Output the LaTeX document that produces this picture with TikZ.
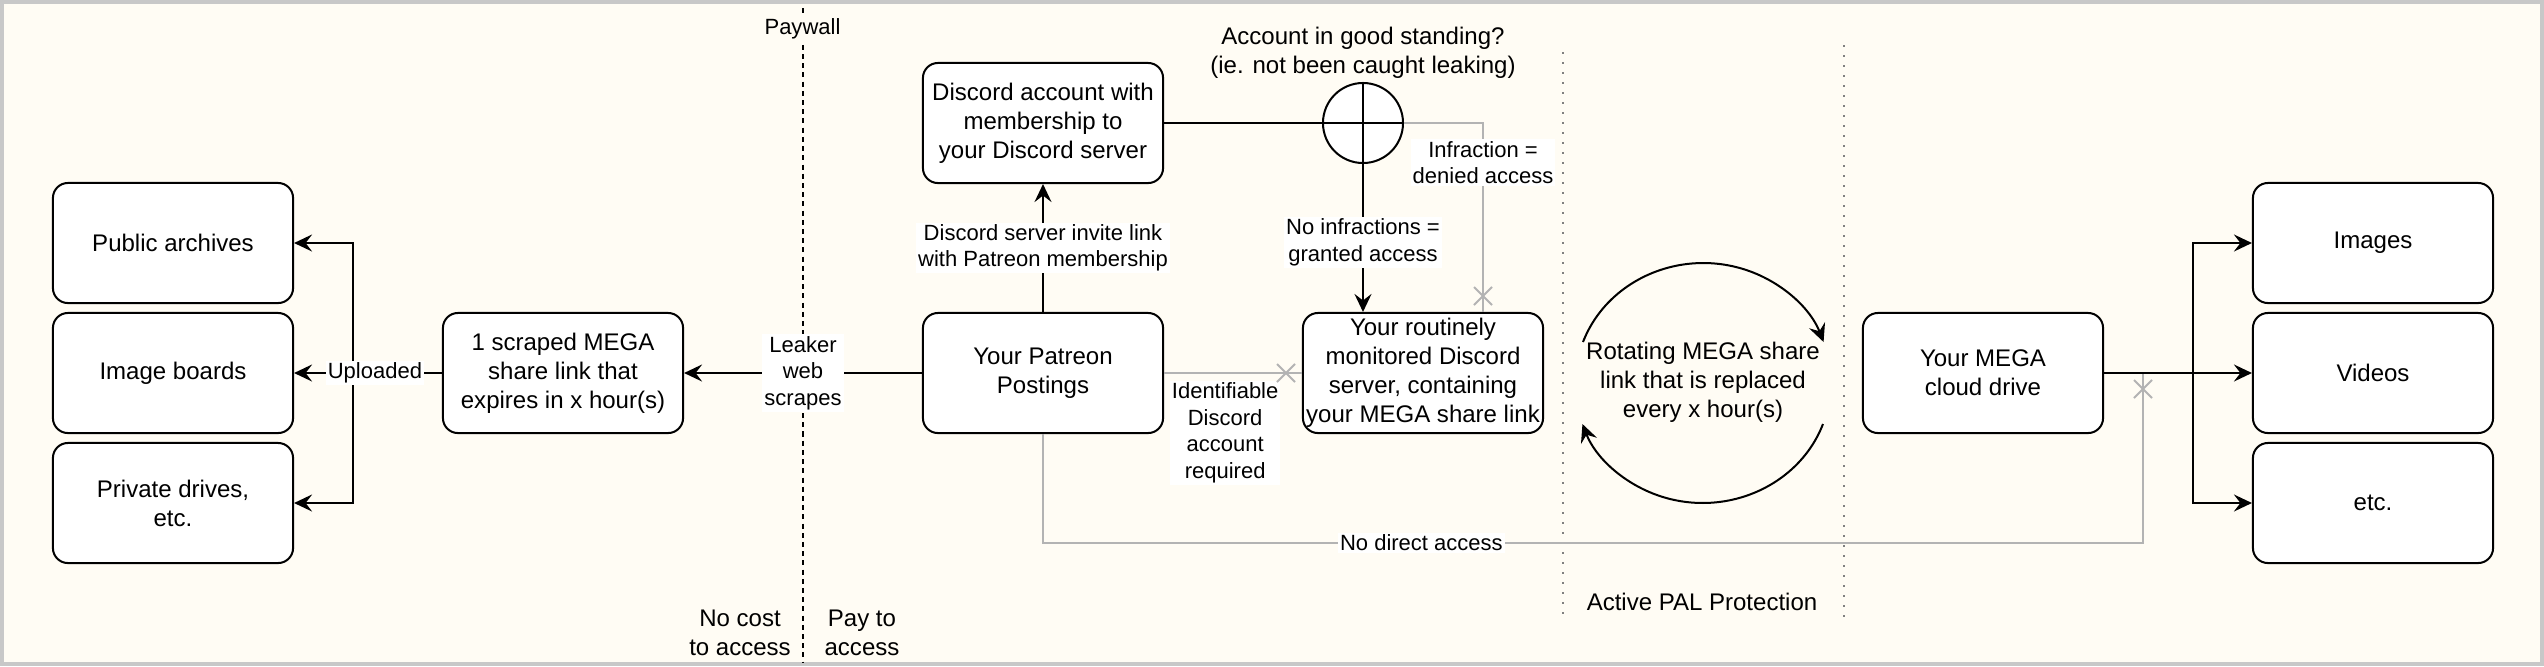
\documentclass[tikz,border=0pt]{standalone}
\usepackage{fontspec}
\setmainfont{Liberation Sans}
\usetikzlibrary{arrows.meta,shapes.misc}
\definecolor{paper}{HTML}{FFFCF4}
\definecolor{rim}{HTML}{C8C8C8}
\definecolor{nogo}{HTML}{B3B3B3}
\definecolor{fencegray}{HTML}{808080}

\begin{document}
\begin{tikzpicture}[x=0.01cm,y=-0.01cm,
  box/.style={draw,rectangle,rounded corners=0.15cm,fill=white,line width=0.02cm,
    minimum width=2.4cm,minimum height=1.2cm,align=center,inner sep=0pt,
    font=\fontsize{6.83}{8.2}\selectfont},
  freetext/.style={align=center,inner sep=0pt,font=\fontsize{6.83}{8.2}\selectfont},
  elabel/.style={fill=white,align=center,inner sep=0.02cm,font=\fontsize{6.26}{7.5}\selectfont},
  flow/.style={line width=0.02cm,-{Stealth[length=0.18cm,width=0.17cm,inset=0.065cm]}},
  wire/.style={line width=0.02cm},
  offline/.style={draw=nogo,line width=0.02cm},
  blocked/.style={cross out,draw=nogo,line width=0.02cm,minimum size=0.16cm,inner sep=0pt},
  wall/.style={line width=0.02cm,dash pattern=on 0.05cm off 0.042cm},
  fence/.style={draw=fencegray,line width=0.02cm,dash pattern=on 0.02cm off 0.08cm}]

\useasboundingbox (0,0) rectangle (2544,666);
\draw[draw=rim,fill=paper,line width=0.04cm] (2,2) rectangle (2542,664);

% zones
\draw[wall] (802.5,8) -- (802.5,662);
\draw[fence] (1563,52) -- (1563,622);
\draw[fence] (1843.5,45) -- (1843.5,617);

\node[elabel,fill=paper] (paywall) at (802.5,29) {Paywall};
\node[freetext] (free) at (740,633) {No cost\\to access};
\node[freetext] (paid) at (862,633) {Pay to\\access};
\node[freetext] (standing) at (1363,53) {Account in good standing?\\(ie. not been caught leaking)};
\node[freetext] (pal) at (1702,602) {Active PAL Protection};

% boxes
\node[box] (pub) at (173,243) {Public archives};
\node[box] (img) at (173,373) {Image boards};
\node[box] (priv) at (173,503) {Private drives,\\etc.};
\node[box] (scraped) at (563,373) {1 scraped MEGA\\share link that\\expires in x hour(s)};
\node[box] (membership) at (1043,123) {Discord account with\\membership to\\your Discord server};
\node[box] (patreon) at (1043,373) {Your Patreon\\Postings};
\node[box] (server) at (1423,373) {Your routinely\\monitored Discord\\server, containing\\your MEGA share link};
\node[draw,circle,fill=white,line width=0.02cm,minimum size=0.8cm,inner sep=0pt] (check) at (1363,123) {};
\node[box] (drive) at (1983,373) {Your MEGA\\cloud drive};
\node[box] (images) at (2373,243) {Images};
\node[box] (videos) at (2373,373) {Videos};
\node[box] (etc) at (2373,503) {etc.};
\node[freetext] (rotate) at (1703,382) {Rotating MEGA share\\link that is replaced\\every x hour(s)};

% leak side
\coordinate (split) at (352.5,373);
\draw[flow] (scraped.west) -- (split) |- (pub.east);
\draw[flow] (split) |- (priv.east);
\draw[flow] (scraped.west) -- node[elabel,pos=0.453]{Uploaded} (img.east);
\draw[flow] (patreon.west) -- node[elabel]{Leaker\\web\\scrapes} (scraped.east);

% patreon and discord
\draw[flow] (patreon.north) -- node[elabel]{Discord server invite link\\with Patreon membership} (membership.south);
\draw[wire] (membership.east) -- (check.west);
\draw[wire] (check.west) -- (check.east);
\draw[wire] (check.north) -- (check.south);
\draw[flow] (check.south) -- node[elabel,pos=0.53]{No infractions =\\granted access} (check.south |- server.north);
\draw[offline] (check.east) -| node[elabel,pos=0.605]{Infraction =\\denied access} ([xshift=0.6cm]server.north);
\node[blocked] (denycut) at (1483,296) {};
\draw[offline] (patreon.east) -- node[elabel,pos=0.443,anchor=north,yshift=-0.07cm]{Identifiable\\Discord\\account\\required} (server.west);
\node[blocked] (servercut) at (1286,373) {};

% no way round
\coordinate (bypass) at (2143,373);
\draw[offline] (patreon.south) -- ++(0,109) -| node[elabel,pos=0.172]{No direct access} (bypass);
\node[blocked] (drivecut) at (2143,389) {};

% drive contents
\coordinate (fan) at (2193,373);
\draw[flow] (drive.east) -- (fan) |- (images.west);
\draw[flow] (fan) |- (etc.west);
\draw[flow] (drive.east) -- (videos.west);

% rotation
\draw[flow] (1583,342) arc[start angle=-160,end angle=-20,x radius=128,y radius=120];
\draw[flow] (1823,424) arc[start angle=20,end angle=160,x radius=128,y radius=120];

\end{tikzpicture}
\end{document}
